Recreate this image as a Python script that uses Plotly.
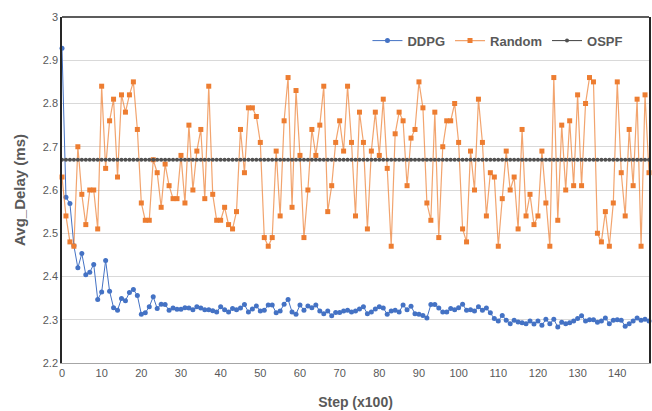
import plotly.graph_objects as go

steps = list(range(149))

ddpg = [2.928, 2.583, 2.569, 2.471, 2.420, 2.453, 2.404, 2.410, 2.428, 2.347,
        2.364, 2.437, 2.366, 2.328, 2.322, 2.349, 2.344, 2.363, 2.370, 2.356,
        2.313, 2.316, 2.330, 2.353, 2.326, 2.336, 2.335, 2.322, 2.327, 2.324,
        2.324, 2.328, 2.327, 2.323, 2.330, 2.327, 2.323, 2.323, 2.321, 2.318,
        2.330, 2.323, 2.318, 2.326, 2.323, 2.327, 2.335, 2.318, 2.325, 2.332,
        2.320, 2.322, 2.334, 2.334, 2.316, 2.320, 2.336, 2.347, 2.318, 2.313,
        2.334, 2.322, 2.332, 2.328, 2.334, 2.320, 2.314, 2.320, 2.309, 2.317,
        2.317, 2.320, 2.322, 2.318, 2.320, 2.325, 2.330, 2.314, 2.318, 2.325,
        2.330, 2.327, 2.313, 2.320, 2.322, 2.318, 2.334, 2.323, 2.331, 2.314,
        2.313, 2.310, 2.304, 2.335, 2.335, 2.327, 2.318, 2.318, 2.326, 2.323,
        2.328, 2.336, 2.322, 2.323, 2.320, 2.330, 2.322, 2.327, 2.316, 2.303,
        2.297, 2.310, 2.299, 2.291, 2.299, 2.295, 2.293, 2.291, 2.297, 2.290,
        2.297, 2.287, 2.301, 2.291, 2.301, 2.283, 2.294, 2.291, 2.293, 2.297,
        2.303, 2.309, 2.297, 2.300, 2.300, 2.294, 2.297, 2.304, 2.291, 2.299,
        2.300, 2.299, 2.285, 2.291, 2.297, 2.304, 2.299, 2.301, 2.297]

random_ = [2.63, 2.54, 2.48, 2.47, 2.70, 2.59, 2.52, 2.60, 2.60, 2.51,
           2.84, 2.65, 2.76, 2.81, 2.63, 2.82, 2.78, 2.82, 2.85, 2.74,
           2.57, 2.53, 2.53, 2.67, 2.64, 2.56, 2.66, 2.61, 2.58, 2.58,
           2.68, 2.57, 2.75, 2.60, 2.69, 2.74, 2.58, 2.84, 2.59, 2.53,
           2.53, 2.56, 2.52, 2.51, 2.55, 2.74, 2.64, 2.79, 2.79, 2.77,
           2.71, 2.49, 2.47, 2.49, 2.69, 2.54, 2.76, 2.86, 2.56, 2.83,
           2.68, 2.49, 2.60, 2.74, 2.68, 2.75, 2.84, 2.55, 2.61, 2.71,
           2.76, 2.69, 2.84, 2.71, 2.54, 2.78, 2.71, 2.51, 2.69, 2.78,
           2.68, 2.81, 2.65, 2.47, 2.73, 2.78, 2.76, 2.61, 2.72, 2.74,
           2.85, 2.79, 2.57, 2.53, 2.78, 2.49, 2.70, 2.76, 2.76, 2.80,
           2.71, 2.51, 2.48, 2.69, 2.60, 2.81, 2.71, 2.54, 2.64, 2.63,
           2.47, 2.58, 2.69, 2.60, 2.63, 2.51, 2.74, 2.54, 2.59, 2.52,
           2.54, 2.69, 2.57, 2.47, 2.86, 2.53, 2.75, 2.60, 2.76, 2.61,
           2.82, 2.61, 2.80, 2.86, 2.85, 2.50, 2.48, 2.55, 2.47, 2.57,
           2.85, 2.64, 2.54, 2.74, 2.61, 2.81, 2.47, 2.82, 2.64]

ospf_value = 2.67
ospf = [ospf_value] * len(steps)

y_ticks = [2.2, 2.3, 2.4, 2.5, 2.6, 2.7, 2.8, 2.9, 3.0]
y_labels = ["2.2", "2.3", "2.4", "2.5", "2.6", "2.7", "2.8", "2.9", "3"]
x_ticks = list(range(0, 141, 10))

fig = go.Figure()

fig.add_trace(go.Scatter(x = steps, y = ddpg, name = "DDPG", mode = "lines+markers",
                         line = dict(color = "#4472C4", width = 1),
                         marker = dict(symbol = "circle", size = 5, color = "#4472C4"),
                         cliponaxis = False))

fig.add_trace(go.Scatter(x = steps, y = random_, name = "Random", mode = "lines+markers",
                         line = dict(color = "rgba(237,125,49,0.7)", width = 1.2),
                         marker = dict(symbol = "square", size = 5, color = "#ED7D31"),
                         cliponaxis = False))

fig.add_trace(go.Scatter(x = steps, y = ospf, name = "OSPF", mode = "lines+markers",
                         line = dict(color = "#404040", width = 1),
                         marker = dict(symbol = "circle", size = 4, color = "#505050"),
                         cliponaxis = False))

fig.update_xaxes(range = [0, 148], tickvals = x_ticks, showgrid = False, zeroline = False,
                 showline = True, linecolor = "#a6a6a6", linewidth = 1,
                 ticks = "", tickfont = dict(size = 11, color = "#595959"),
                 title = dict(text = "<b>Step (x100)</b>", standoff = 18,
                              font = dict(size = 14, color = "#595959")))

fig.update_yaxes(range = [2.2, 3.0], tickvals = y_ticks, ticktext = y_labels,
                 showgrid = True, gridcolor = "#d9d9d9", gridwidth = 1, zeroline = False,
                 showline = True, linecolor = "#262626", linewidth = 1.5, mirror = True,
                 ticks = "", tickfont = dict(size = 11, color = "#595959"),
                 title = dict(text = "<b>Avg_Delay (ms)</b>", standoff = 14,
                              font = dict(size = 15, color = "#595959")))

# top frame line of the plot area
fig.add_shape(type = "line", xref = "paper", yref = "paper", x0 = 0, x1 = 1, y0 = 1, y1 = 1,
              line = dict(color = "#262626", width = 1.5))

fig.update_layout(width = 652, height = 411,
                  margin = dict(l = 62, r = 1, t = 17, b = 48),
                  plot_bgcolor = "white", paper_bgcolor = "white",
                  font = dict(family = "Liberation Sans, Arial, sans-serif", color = "#595959"),
                  legend = dict(orientation = "h", x = 0.965, xanchor = "right",
                                y = 0.975, yanchor = "top", bgcolor = "rgba(0,0,0,0)",
                                font = dict(size = 13, color = "#595959", weight = "bold"),
                                itemwidth = 30, tracegroupgap = 0))

# drop the default body margin so the figure sits at the window's corner
fig.write_html("out.html", config = {"displayModeBar": False},
               post_script = "document.body.style.margin = '0'; document.body.style.overflow = 'hidden';")
